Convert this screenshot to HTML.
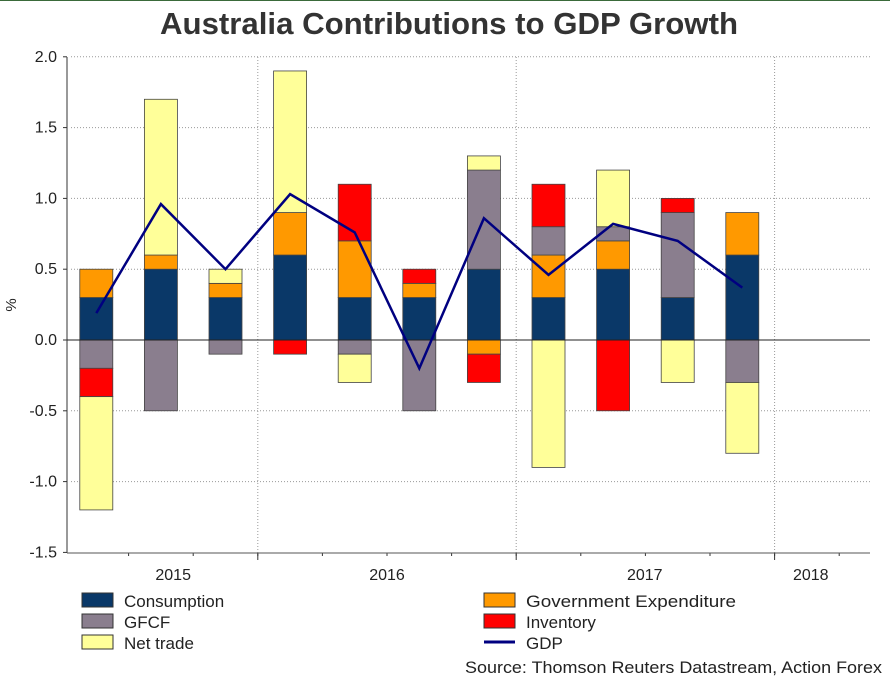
<!DOCTYPE html>
<html><head><meta charset="utf-8"><style>
body{margin:0;background:#fff;font-family:"Liberation Sans",Arial,sans-serif;}
svg text{font-family:"Liberation Sans",Arial,sans-serif;}
</style></head><body>
<svg id="c" width="890" height="679" xmlns="http://www.w3.org/2000/svg">
<rect x="0" y="0" width="890" height="679" fill="#fff"/>
<line x1="0" y1="0.5" x2="890" y2="0.5" stroke="#3a6a3a"/>
<text x="449" y="34" text-anchor="middle" font-size="31" font-weight="bold" fill="#333" textLength="578" lengthAdjust="spacingAndGlyphs">Australia Contributions to GDP Growth</text>
<text x="16" y="305" font-size="15" fill="#222" transform="rotate(-90 16 305)" text-anchor="middle">%</text>
<g id="grid"></g><g id="bars"></g><g id="axes"></g><g id="line"></g>
<g>
<rect x="82" y="593" width="31" height="14" fill="#0a3868" stroke="#333"/>
<text x="124" y="607" font-size="17" fill="#222">Consumption</text>
<rect x="82" y="614" width="31" height="14" fill="#8a7e8e" stroke="#333"/>
<text x="124" y="628" font-size="17" fill="#222">GFCF</text>
<rect x="82" y="635" width="31" height="14" fill="#ffff99" stroke="#333"/>
<text x="124" y="649" font-size="17" fill="#222">Net trade</text>
<rect x="484" y="593" width="31" height="14" fill="#ff9900" stroke="#333"/>
<text x="526" y="607" font-size="17" fill="#222" textLength="210" lengthAdjust="spacingAndGlyphs">Government Expenditure</text>
<rect x="484" y="614" width="31" height="14" fill="#ff0000" stroke="#333"/>
<text x="526" y="628" font-size="17" fill="#222">Inventory</text>
<line x1="484" y1="642" x2="515" y2="642" stroke="#000080" stroke-width="3"/>
<text x="526" y="649" font-size="17" fill="#222">GDP</text>
</g>
<text x="882" y="673" text-anchor="end" font-size="17" fill="#222" textLength="417" lengthAdjust="spacingAndGlyphs">Source: Thomson Reuters Datastream, Action Forex</text>
</svg>
<script>
const consumption=[0.3,0.5,0.3,0.6,0.3,0.3,0.5,0.3,0.5,0.3,0.6];
const government=[0.2,0.1,0.1,0.3,0.4,0.1,-0.1,0.3,0.2,0,0.3];
const gfcf=[-0.2,-0.5,-0.1,0,-0.1,-0.5,0.7,0.2,0.1,0.6,-0.3];
const inventory=[-0.2,0,0,-0.1,0.4,0.1,-0.2,0.3,-0.5,0.1,0];
const netTrade=[-0.8,1.1,0.1,1.0,-0.2,0,0.1,-0.9,0.4,-0.3,-0.5];
const gdp=[0.19,0.96,0.5,1.03,0.76,-0.2,0.86,0.46,0.82,0.70,0.37];
const yTicks=[2.0,1.5,1.0,0.5,0.0,-0.5,-1.0,-1.5];
const yearLabels=["2015","2016","2017","2018"];
const yearStartQ=[0,3,7,11];
const yearLabelQ=[1.69,5,8.99,11.56];

const NS="http://www.w3.org/2000/svg";
const X0=64,QW=64.6,Y0=340,PU=141.6,XR=870,YT=57,YB=553,AX=67;
const xq=i=>X0+QW*(i+0.5);
const yv=v=>Y0-v*PU;
function mk(t,a,p){const e=document.createElementNS(NS,t);for(const k in a)e.setAttribute(k,a[k]);p.appendChild(e);return e;}
const grid=document.getElementById('grid'),axes=document.getElementById('axes'),bars=document.getElementById('bars'),line=document.getElementById('line');
yTicks.forEach(v=>{
 const y=yv(v);
 if(v!==0&&v!==-1.5){const g=mk('line',{x1:AX+4,x2:XR,y1:y,y2:y,stroke:'#999','stroke-dasharray':'1,2'},grid);
 
 }
 const t=mk('text',{x:AX-10,y:y+5,'text-anchor':'end','font-size':'16',fill:'#222'},axes);t.textContent=v.toFixed(1);
 
 
 mk('line',{x1:AX-4,x2:AX,y1:y,y2:y,stroke:'#333'},axes);
});
yearStartQ.forEach((s,i)=>{
 if(i>0){const x=X0+QW*s;const g=mk('line',{x1:x,x2:x,y1:YT,y2:YB,stroke:'#999','stroke-dasharray':'1,2'},grid);
 
 
 mk('line',{x1:x,x2:x,y1:YB,y2:YB+7,stroke:'#333'},axes);}
 const cx=X0+QW*yearLabelQ[i];
 const t=mk('text',{x:cx,y:580,'text-anchor':'middle','font-size':'16',fill:'#222'},axes);t.textContent=yearLabels[i];
 
 
});
for(let q=1;q<13;q++){const x=X0+QW*q;if(x<XR)mk('line',{x1:x,x2:x,y1:YB,y2:YB+3,stroke:'#333'},axes);}
mk('line',{x1:AX,x2:AX,y1:YT,y2:YB,stroke:'#333'},axes);
mk('line',{x1:AX,x2:XR,y1:YB,y2:YB,stroke:'#555'},axes);
mk('line',{x1:AX,x2:XR,y1:Y0,y2:Y0,stroke:'#222'},axes);
const series=[["consumption",consumption,"#0a3868"],["government",government,"#ff9900"],["gfcf",gfcf,"#8a7e8e"],["inventory",inventory,"#ff0000"],["net-trade",netTrade,"#ffff99"]];
for(let i=0;i<consumption.length;i++){
 let pos=0,neg=0;
 series.forEach(([n,arr,c])=>{
  const v=arr[i];if(!v)return;let a,b;
  if(v>0){a=pos;b=pos+v;pos=b;}else{a=neg;b=neg+v;neg=b;}
  const y1=yv(Math.max(a,b)),y2=yv(Math.min(a,b));
  const r=mk('rect',{x:xq(i)-16.5,y:y1,width:33,height:y2-y1,fill:c,stroke:'#444','stroke-width':'0.8'},bars);
  
  
 });
}
const p=mk('polyline',{points:gdp.map((v,i)=>xq(i)+','+yv(v)).join(' '),fill:'none',stroke:'#000080','stroke-width':'2.5'},line);


</script>
</body></html>
